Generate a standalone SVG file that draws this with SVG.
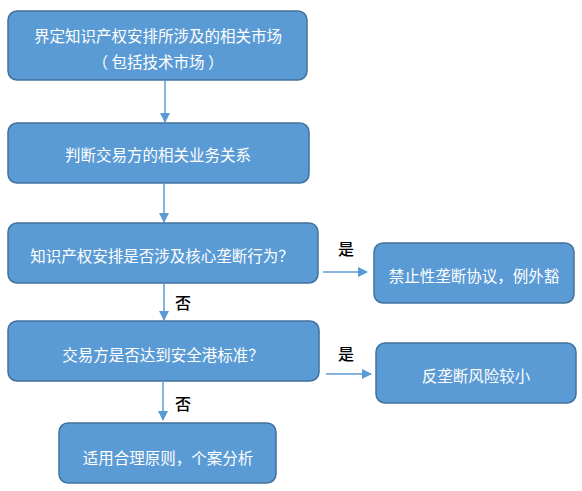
<svg xmlns="http://www.w3.org/2000/svg" width="582" height="491" viewBox="0 0 582 491">
<defs>
<marker id="ah" markerWidth="10" markerHeight="10" refX="9" refY="5" orient="auto" markerUnits="userSpaceOnUse">
<path d="M0,0 L10,5 L0,10 Z" fill="#5B9BD5"/>
</marker>
<style>
.box{fill:#5B9BD5;stroke:#41719C;stroke-width:1.5}
.t{fill:#ffffff;font-family:"Noto Sans CJK SC","Microsoft YaHei",sans-serif;font-size:15.5px;text-anchor:middle;dominant-baseline:central}
.l{fill:#000000;font-family:"Noto Sans CJK SC",sans-serif;font-size:16px;font-weight:500;text-anchor:middle;dominant-baseline:central}
.c{stroke:#5B9BD5;stroke-width:1.5;fill:none;marker-end:url(#ah)}
</style>
</defs>
<rect width="582" height="491" fill="#ffffff"/>
<g id="connectors">
<line class="c" x1="165" y1="81" x2="165" y2="122"/>
<line class="c" x1="164" y1="184" x2="164" y2="222"/>
<line class="c" x1="164" y1="284" x2="164" y2="320"/>
<line class="c" x1="163" y1="382" x2="163" y2="420"/>
<line class="c" x1="323" y1="272" x2="367" y2="272"/>
<line class="c" x1="326" y1="374" x2="371" y2="374"/>
<text class="l" x="346" y="248">是</text>
<text class="l" x="346" y="353">是</text>
<text class="l" x="183" y="302">否</text>
<text class="l" x="183" y="403">否</text>
</g>
<g id="n1"><rect class="box" x="8" y="11" width="299" height="69" rx="9"/>
<text class="t" x="158" y="35">界定知识产权安排所涉及的相关市场</text>
<text class="t" x="158" y="61">（ 包括技术市场 ）</text></g>
<g id="n2"><rect class="box" x="8" y="123" width="301" height="60" rx="9"/>
<text class="t" x="158" y="154">判断交易方的相关业务关系</text></g>
<g id="n3"><rect class="box" x="8" y="223" width="310" height="60" rx="9"/>
<text class="t" x="162" y="255">知识产权安排是否涉及核心垄断行为？</text></g>
<g id="n4"><rect class="box" x="374" y="243" width="200" height="60" rx="9"/>
<text class="t" x="474" y="275">禁止性垄断协议，例外豁</text></g>
<g id="n5"><rect class="box" x="8" y="321" width="311" height="60" rx="9"/>
<text class="t" x="163" y="354">交易方是否达到安全港标准？</text></g>
<g id="n6"><rect class="box" x="376" y="343" width="200" height="60" rx="9"/>
<text class="t" x="476" y="375">反垄断风险较小</text></g>
<g id="n7"><rect class="box" x="59" y="423" width="217" height="60" rx="9"/>
<text class="t" x="168" y="457">适用合理原则，个案分析</text></g>
</svg>
